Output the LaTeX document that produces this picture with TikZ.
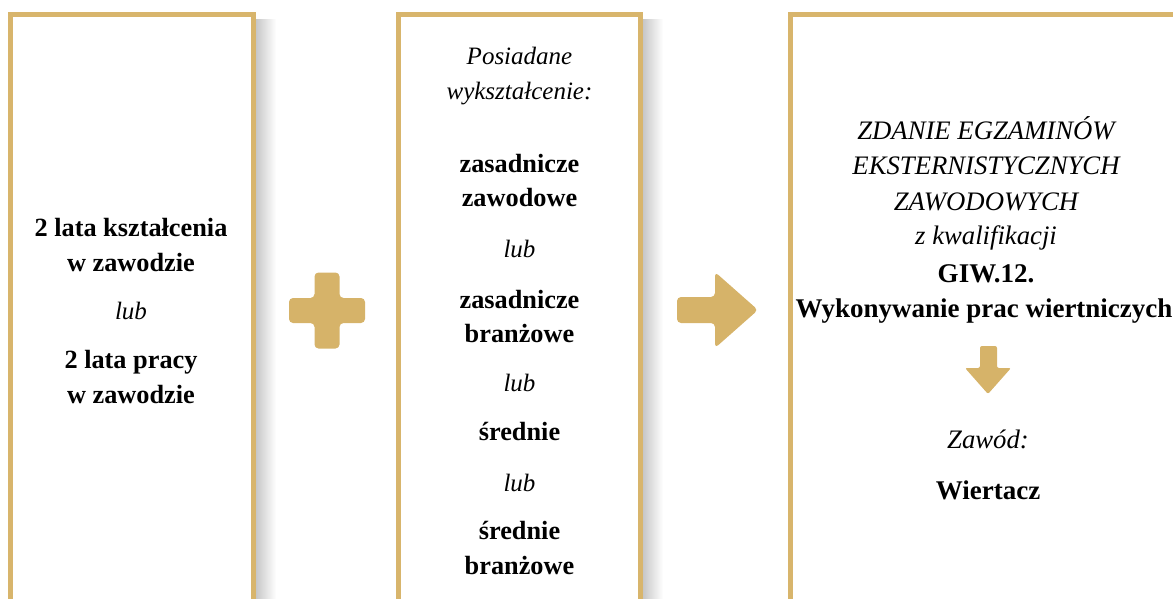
\documentclass[tikz,border=0pt]{standalone}
\usepackage{fontspec}
\setmainfont{Liberation Serif}
\definecolor{gold}{RGB}{216,181,108}
\definecolor{goldfill}{RGB}{214,179,105}
\begin{document}
\begin{tikzpicture}[x=1pt,y=-1pt,
  txt/.style={anchor=base, inner sep=0pt, font=\fontsize{25}{34}\selectfont},
  bl/.style={txt, font=\fontsize{26.3}{34}\selectfont\bfseries},
  il/.style={txt, font=\fontsize{25}{34}\selectfont\itshape},
  blc/.style={txt, font=\fontsize{27}{34}\selectfont\bfseries},
  ilc/.style={txt, font=\fontsize{26.7}{34}\selectfont\itshape},
  frame/.style={draw=gold, line width=5pt},
  shadowstrip/.style={left color=black!22, right color=white},
  goldshape/.style={fill=goldfill, rounded corners=4pt}]
\useasboundingbox (0,0) rectangle (1173,599);
\clip (0,0) rectangle (1173,599);
% shadows
\shade[shadowstrip] (256,20) rectangle (276,620);
\shade[shadowstrip] (643,20) rectangle (663,620);
% frames
\draw[frame] (10.5,700) -- (10.5,14.5) -- (253.5,14.5) -- (253.5,700);
\draw[frame] (398.5,700) -- (398.5,14.5) -- (640.5,14.5) -- (640.5,700);
\draw[frame] (790.5,700) -- (790.5,14.5) -- (1200,14.5);
% box 1
\node[bl] (a1) at (131,236) {2 lata kształcenia};
\node[bl] (a2) at (131,271) {w zawodzie};
\node[il] (a3) at (131,319) {lub};
\node[bl] (a4) at (131,368) {2 lata pracy};
\node[bl] (a5) at (131,403) {w zawodzie};
% box 2
\node[il] (b1) at (519.5,65) {Posiadane};
\node[il] (b2) at (519.5,100) {wykształcenie:};
\node[bl] (b3) at (519.5,173) {zasadnicze};
\node[bl] (b4) at (519.5,207) {zawodowe};
\node[il] (b5) at (519.5,257) {lub};
\node[bl] (b6) at (519.5,308) {zasadnicze};
\node[bl] (b7) at (519.5,342) {branżowe};
\node[il] (b8) at (519.5,391) {lub};
\node[bl] (b9) at (519.5,440) {średnie};
\node[il] (b10) at (519.5,491) {lub};
\node[bl] (b11) at (519.5,539) {średnie};
\node[bl] (b12) at (519.5,574) {branżowe};
% box 3
\node[ilc] (c1) at (986,140) {ZDANIE EGZAMINÓW};
\node[ilc] (c2) at (986,175) {EKSTERNISTYCZNYCH};
\node[ilc] (c3) at (986,210) {ZAWODOWYCH};
\node[ilc] (c4) at (986,244) {z kwalifikacji};
\node[blc] (c5) at (986,282) {GIW.12.};
\node[blc] (c6) at (984,317) {Wykonywanie prac wiertniczych};
\node[ilc] (c7) at (988,448) {Zawód:};
\node[blc] (c8) at (988,499) {Wiertacz};
% plus
\fill[goldshape] (314.5,272.5) -- (339.5,272.5) -- (339.5,298) -- (365,298) -- (365,323) -- (339.5,323) -- (339.5,348.5) -- (314.5,348.5) -- (314.5,323) -- (289,323) -- (289,298) -- (314.5,298) -- cycle;
% right arrow
\fill[goldshape] (677,297) -- (715,297) -- (715,272) -- (758,310) -- (715,348) -- (715,323) -- (677,323) -- cycle;
% down arrow
\fill[goldshape, rounded corners=2pt] (980,346) -- (997,346) -- (997,368) -- (1011,368) -- (988,394) -- (965,368) -- (980,368) -- cycle;
\end{tikzpicture}
\end{document}
